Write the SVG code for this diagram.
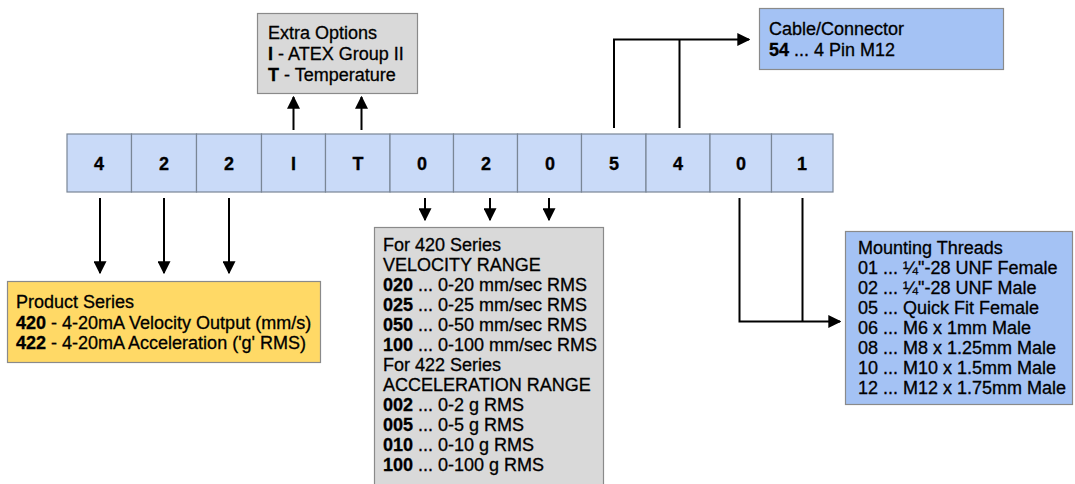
<svg xmlns="http://www.w3.org/2000/svg" width="1075" height="484" viewBox="0 0 1075 484">
<defs>
<marker id="ah" viewBox="0 0 10 10" refX="9" refY="5" markerWidth="6.5" markerHeight="6.5" orient="auto" markerUnits="strokeWidth">
<path d="M0,0 L10,5 L0,10 z" fill="#000"/>
</marker>
<style>
text{font-family:"Liberation Sans",Arial,sans-serif;font-size:18px;fill:#000;stroke:#000;stroke-width:0.3}
.b{font-weight:bold}
.cell{fill:#c9daf8;stroke:#7a8696;stroke-width:1.2}
.box{stroke:#8a8a8a;stroke-width:1.2}
.grey{fill:#d9d9d9}
.blue{fill:#a4c2f4}
.yel{fill:#ffd966}
.ct{font-weight:bold;font-size:18px;text-anchor:middle}
.ln{fill:none;stroke:#000;stroke-width:2}
</style>
</defs>
<rect width="1075" height="484" fill="#fff"/>

<g id="code-row">
<rect class="cell" x="67" y="134" width="64.5" height="58"/>
<rect class="cell" x="131.5" y="134" width="65" height="58"/>
<rect class="cell" x="196.5" y="134" width="65" height="58"/>
<rect class="cell" x="261.5" y="134" width="64" height="58"/>
<rect class="cell" x="325.5" y="134" width="64.5" height="58"/>
<rect class="cell" x="390" y="134" width="63.5" height="58"/>
<rect class="cell" x="453.5" y="134" width="64" height="58"/>
<rect class="cell" x="517.5" y="134" width="64" height="58"/>
<rect class="cell" x="581.5" y="134" width="64.5" height="58"/>
<rect class="cell" x="646" y="134" width="64" height="58"/>
<rect class="cell" x="710" y="134" width="61.5" height="58"/>
<rect class="cell" x="771.5" y="134" width="61.5" height="58"/>
<text class="ct" x="99" y="170">4</text>
<text class="ct" x="164" y="170">2</text>
<text class="ct" x="229" y="170">2</text>
<text class="ct" x="293.5" y="170">I</text>
<text class="ct" x="358" y="170">T</text>
<text class="ct" x="422" y="170">0</text>
<text class="ct" x="486" y="170">2</text>
<text class="ct" x="550" y="170">0</text>
<text class="ct" x="614" y="170">5</text>
<text class="ct" x="678" y="170">4</text>
<text class="ct" x="741" y="170">0</text>
<text class="ct" x="802" y="170">1</text>
</g>

<g id="extra-options">
<rect class="box grey" x="257.5" y="13.5" width="160" height="80"/>
<text x="268" y="39">Extra Options</text>
<text x="268" y="60"><tspan class="b">I</tspan> - ATEX Group II</text>
<text x="268" y="81"><tspan class="b">T</tspan> - Temperature</text>
</g>

<g id="cable-connector">
<rect class="box blue" x="759.5" y="8.5" width="244" height="61"/>
<text x="769" y="35">Cable/Connector</text>
<text x="769" y="56"><tspan class="b">54</tspan> ... 4 Pin M12</text>
</g>

<g id="product-series">
<rect class="box yel" x="7.5" y="281.5" width="313" height="81"/>
<text x="16" y="308">Product Series</text>
<text x="16" y="329"><tspan class="b">420</tspan> - 4-20mA Velocity Output (mm/s)</text>
<text x="16" y="349"><tspan class="b">422</tspan> - 4-20mA Acceleration ('g' RMS)</text>
</g>

<g id="range">
<rect class="box grey" x="374.5" y="227.5" width="229" height="262"/>
<text x="383" y="251">For 420 Series</text>
<text x="383" y="271">VELOCITY RANGE</text>
<text x="383" y="291"><tspan class="b">020</tspan> ... 0-20 mm/sec RMS</text>
<text x="383" y="311"><tspan class="b">025</tspan> ... 0-25 mm/sec RMS</text>
<text x="383" y="331"><tspan class="b">050</tspan> ... 0-50 mm/sec RMS</text>
<text x="383" y="351"><tspan class="b">100</tspan> ... 0-100 mm/sec RMS</text>
<text x="383" y="371">For 422 Series</text>
<text x="383" y="391">ACCELERATION RANGE</text>
<text x="383" y="411"><tspan class="b">002</tspan> ... 0-2 g RMS</text>
<text x="383" y="431"><tspan class="b">005</tspan> ... 0-5 g RMS</text>
<text x="383" y="451"><tspan class="b">010</tspan> ... 0-10 g RMS</text>
<text x="383" y="471"><tspan class="b">100</tspan> ... 0-100 g RMS</text>
</g>

<g id="mounting-threads">
<rect class="box blue" x="845.5" y="231.5" width="227" height="173"/>
<text x="858" y="254">Mounting Threads</text>
<text x="858" y="274">01 ... ¼"-28 UNF Female</text>
<text x="858" y="294">02 ... ¼"-28 UNF Male</text>
<text x="858" y="314">05 ... Quick Fit Female</text>
<text x="858" y="334">06 ... M6 x 1mm Male</text>
<text x="858" y="354">08 ... M8 x 1.25mm Male</text>
<text x="858" y="374">10 ... M10 x 1.5mm Male</text>
<text x="858" y="394">12 ... M12 x 1.75mm Male</text>
</g>

<g id="connectors">
<line class="ln" x1="293.5" y1="130" x2="293.5" y2="97" marker-end="url(#ah)"/>
<line class="ln" x1="361.5" y1="130" x2="361.5" y2="97" marker-end="url(#ah)"/>
<polyline class="ln" points="614,128 614,39.5 749,39.5" marker-end="url(#ah)"/>
<line class="ln" x1="679.5" y1="128" x2="679.5" y2="39.5"/>
<line class="ln" x1="100" y1="198" x2="100" y2="273" marker-end="url(#ah)"/>
<line class="ln" x1="164" y1="198" x2="164" y2="273" marker-end="url(#ah)"/>
<line class="ln" x1="229" y1="198" x2="229" y2="273" marker-end="url(#ah)"/>
<line class="ln" x1="425" y1="198" x2="425" y2="220" marker-end="url(#ah)"/>
<line class="ln" x1="490" y1="198" x2="490" y2="220" marker-end="url(#ah)"/>
<line class="ln" x1="549" y1="198" x2="549" y2="220" marker-end="url(#ah)"/>
<polyline class="ln" points="739.5,198 739.5,321.5 840,321.5" marker-end="url(#ah)"/>
<line class="ln" x1="802.5" y1="198" x2="802.5" y2="321.5"/>
</g>
</svg>
